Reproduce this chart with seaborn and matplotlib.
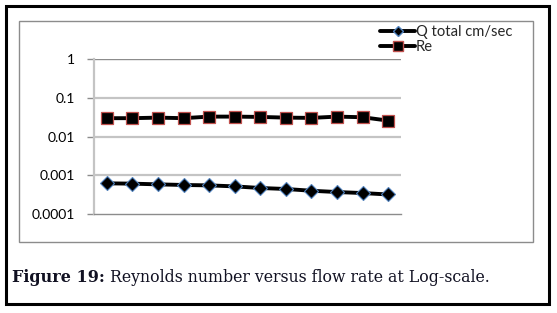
import numpy as np
import pandas as pd
import seaborn as sns
import matplotlib.pyplot as plt
from matplotlib.patches import Rectangle
from matplotlib.lines import Line2D

# ======================================
# DATA
# ======================================
points = list(range(1, 13))
q_total = [0.000618, 0.000607, 0.000582, 0.000561, 0.000548, 0.000516,
           0.000469, 0.000442, 0.000398, 0.000369, 0.000347, 0.000319]
reynolds = [0.0297, 0.0297, 0.0307, 0.0297, 0.0326, 0.0326,
            0.0320, 0.0307, 0.0302, 0.0326, 0.0314, 0.0257]
series_names = ["Q total cm/sec", "Re"]
y_ticks = [0.0001, 0.001, 0.01, 0.1, 1]
y_tick_labels = ["0.0001", "0.001", "0.01", "0.1", "1"]
caption_bold = "Figure 19:"
caption_text = " Reynolds number versus flow rate at Log-scale."

# ======================================
# FIGURE
# ======================================
sns.set_style("white")
plt.rcParams["font.family"] = ["Lato", "DejaVu Sans"]

W, H = 557, 313
fig = plt.figure(figsize=(W / 100, H / 100), dpi=100)


def fx(px):
    return px / W


def fy(py):
    return 1 - py / H


ax = fig.add_axes([fx(94), fy(214), fx(401) - fx(94), fy(59) - fy(214)])

sns.lineplot(x=points, y=q_total, ax=ax, color="black", linewidth=2.8,
             marker="D", markersize=7, markerfacecolor="black",
             markeredgecolor="#4f81bd", markeredgewidth=0.8)
sns.lineplot(x=points, y=reynolds, ax=ax, color="black", linewidth=2.8,
             marker="s", markersize=8.5, markerfacecolor="black",
             markeredgecolor="#c0504d", markeredgewidth=0.9)

ax.set_yscale("log")
ax.set_ylim(0.0001, 1)
ax.set_xlim(0.5, 12.5)
ax.set_yticks(y_ticks)
ax.set_yticklabels(y_tick_labels)
ax.minorticks_off()
ax.set_xticks([])

for v in y_ticks[1:-1]:
    ax.axhline(v, color="#c4c4c4", linewidth=1.6, zorder=0)
ax.axhline(1, color="#8c8c8c", linewidth=1.0, zorder=0)

for side in ["top", "right"]:
    ax.spines[side].set_visible(False)
ax.spines["left"].set_color("#c4c4c4")
ax.spines["left"].set_linewidth(1.6)
ax.spines["bottom"].set_color("#8c8c8c")
ax.spines["bottom"].set_linewidth(1.0)

ax.tick_params(axis="y", direction="out", length=5, width=1.0,
               color="#8c8c8c", labelsize=10, pad=9, labelcolor="black",
               left=True)
ax.set_xlabel("")
ax.set_ylabel("")

handles = [
    Line2D([], [], color="black", linewidth=2.8, marker="D", markersize=5,
           markerfacecolor="black", markeredgecolor="#4f81bd"),
    Line2D([], [], color="black", linewidth=2.8, marker="s", markersize=7,
           markerfacecolor="black", markeredgecolor="#c0504d"),
]
fig.legend(handles, series_names, loc="upper left",
           bbox_to_anchor=(fx(380), fy(25)), frameon=False, fontsize=10.6,
           handlelength=2.4, handletextpad=0.05, labelspacing=0.1,
           borderpad=0, borderaxespad=0)

# frames
fig.patches.append(Rectangle((fx(19), fy(242)), fx(533) - fx(19),
                             fy(21) - fy(242), transform=fig.transFigure,
                             fill=False, edgecolor="#8c8c8c", linewidth=1.0))
fig.patches.append(Rectangle((fx(5.5), fy(303.5)), fx(549) - fx(5.5),
                             fy(5.5) - fy(303.5), transform=fig.transFigure,
                             fill=False, edgecolor="black", linewidth=2.2))

# caption
t1 = fig.text(fx(12), fy(282), caption_bold, fontsize=11.5,
              family="DejaVu Serif", fontweight="bold", color="#111122",
              va="baseline")
fig.canvas.draw()
bb = t1.get_window_extent()
fig.text(bb.x1 / W, fy(282), caption_text, fontsize=11.3,
         family="DejaVu Serif", color="#111122", va="baseline")

fig.savefig("out.png", dpi=100)
